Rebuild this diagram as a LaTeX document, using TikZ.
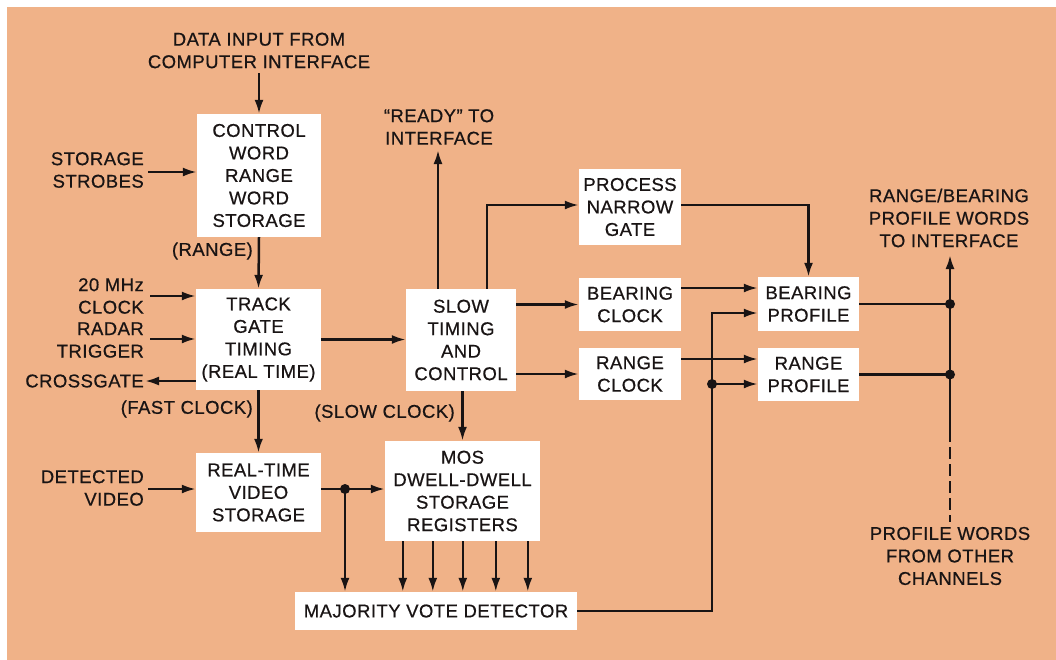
\documentclass[tikz,border=0pt]{standalone}
\usepackage{fontspec}
\setmainfont{Liberation Sans}[LetterSpace=2.5, FakeBold=0.6]
\usetikzlibrary{arrows.meta}
\definecolor{bg}{RGB}{240,178,136}
\definecolor{ink}{RGB}{25,20,20}
\newcommand\dfont{\fontsize{18.5}{22.5}\selectfont}
\begin{document}
\begin{tikzpicture}[x=1pt,y=-1pt,
  box/.style={fill=white, inner sep=0pt, align=center, font=\dfont, text=ink},
  lbl/.style={inner sep=0pt, font=\dfont, text=ink},
  arr/.style={draw=ink, line width=2.5pt, -{Latex[length=14pt,width=9pt]}},
  ln/.style={draw=ink, line width=2.5pt},
  dot/.style={circle, fill=ink, inner sep=0pt, minimum size=10pt}]
\useasboundingbox (0,0) rectangle (1056,659);
\fill[white] (-50,-50) rectangle (2000,2000);
\fill[bg] (7,7) rectangle (2000,2000);

% boxes
\node[box, minimum width=124pt, minimum height=123pt] (b1) at (259,175.5) {CONTROL\\WORD\\RANGE\\WORD\\STORAGE};
\node[box, minimum width=125pt, minimum height=101pt] (b2) at (258.5,339.5) {TRACK\\GATE\\TIMING\\(REAL TIME)};
\node[box, minimum width=125pt, minimum height=79pt] (b3) at (258.5,492.5) {REAL-TIME\\VIDEO\\STORAGE};
\node[box, minimum width=110pt, minimum height=102pt] (b4) at (461,340) {SLOW\\TIMING\\AND\\CONTROL};
\node[box, minimum width=102pt, minimum height=76pt] (b5) at (630,207) {PROCESS\\NARROW\\GATE};
\node[box, minimum width=102pt, minimum height=53pt] (b6) at (630,304.5) {BEARING\\CLOCK};
\node[box, minimum width=102pt, minimum height=52pt] (b7) at (630,374) {RANGE\\CLOCK};
\node[box, minimum width=101pt, minimum height=54pt] (b8) at (808.5,304) {BEARING\\PROFILE};
\node[box, minimum width=101pt, minimum height=53pt] (b9) at (808.5,374.5) {RANGE\\PROFILE};
\node[box, minimum width=155pt, minimum height=100pt] (b10) at (462.5,491) {MOS\\DWELL-DWELL\\STORAGE\\REGISTERS};
\node[box, minimum width=282pt, minimum height=38pt] (b11) at (436,611) {MAJORITY VOTE DETECTOR};

% labels
\node[lbl, align=center] (tdata) at (259,50.5) {DATA INPUT FROM\\COMPUTER INTERFACE};
\node[lbl, align=right, anchor=east] (tss) at (144,170) {STORAGE\\STROBES};
\node[lbl, anchor=east] (trange) at (253,251) {(RANGE)};
\node[lbl, align=right, anchor=east] (tclk) at (144,296) {20 MHz\\CLOCK};
\node[lbl, align=right, anchor=east] (trad) at (144,340) {RADAR\\TRIGGER};
\node[lbl, anchor=east] (tcg) at (144,381) {CROSSGATE};
\node[lbl, anchor=east] (tfast) at (253,409) {(FAST CLOCK)};
\node[lbl, align=right, anchor=east] (tvid) at (144,488) {DETECTED\\VIDEO};
\node[lbl, anchor=east] (tslow) at (455,413) {(SLOW CLOCK)};
\node[lbl, align=center] (tready) at (439,127) {``READY'' TO\\INTERFACE};
\node[lbl, align=center] (trb) at (949,218) {RANGE/BEARING\\PROFILE WORDS\\TO INTERFACE};
\node[lbl, align=center] (tpw) at (950,556) {PROFILE WORDS\\FROM OTHER\\CHANNELS};

% helper coordinates
\coordinate (cdata) at (259,73);
\coordinate (css) at (148,172);
\coordinate (cclk) at (150,296);
\coordinate (crad) at (150,339);
\coordinate (ccg) at (145,381);
\coordinate (cvid) at (148,489);
\coordinate (j1) at (345,489);
\coordinate (kx) at (712,384);
\coordinate (bpin) at (758,313);
\coordinate (sx) at (487,205);
\coordinate (rd) at (438,150);
\coordinate (bcy) at (0,288);
\coordinate (rcy) at (0,359);
\coordinate (bus) at (950,302);
\coordinate (bustop) at (950,255);
\coordinate (busmid) at (950,430);
\coordinate (busbot) at (950,522);

% connectors
\draw[arr] (cdata) -- (b1.north);
\draw[arr] (css) -- (css -| b1.west);
\draw[arr] (b1.south) -- (b2.north);
\draw[arr] (cclk) -- (cclk -| b2.west);
\draw[arr] (crad) -- (crad -| b2.west);
\draw[arr] (ccg -| b2.west) -- (ccg);
\draw[arr] (b2.south) -- (b3.north);
\draw[arr] (cvid) -- (cvid -| b3.west);
\draw[arr] (b2.east) -- (b2.east -| b4.west);
\draw[arr] (j1 -| b3.east) -- (j1 -| b10.west);
\draw[arr] (j1) -- (j1 |- b11.north);
\foreach \dx [count=\i] in {18,48,78,111,143} {
  \path ([xshift=\dx pt]b10.south west) coordinate (m\i);
  \draw[arr] (m\i) -- (m\i |- b11.north);
}
\draw[arr] (b11.east) -| (kx) |- (b8.west |- bpin);
\draw[arr] (kx) -- (kx -| b9.west);
\draw[arr] (b4.north -| rd) -- (rd);
\draw[arr] (b4.north -| sx) |- (b5.west |- sx);
\draw[arr] (b4.east |- b6.west) -- (b6.west);
\draw[arr] (b4.east |- b7.west) -- (b7.west);
\draw[arr] (b4.south -| b10.north) -- (b10.north);
\draw[arr] (b5.east |- sx) -| (b8.north);
\draw[arr] (b6.east |- bcy) -- (b8.west |- bcy);
\draw[arr] (b7.east |- rcy) -- (b9.west |- rcy);
\draw[ln] (b8.east) -- (b8.east -| bus);
\draw[ln] (b9.east) -- (b9.east -| bus);
\draw[arr] (busmid) -- (bustop);
\draw[ln, dash pattern=on 12pt off 5pt] (busmid) -- (busbot);

% dots
\node[dot] (d1) at (j1) {};
\node[dot] (d2) at (kx) {};
\node[dot] (d3) at (b8.east -| bus) {};
\node[dot] (d4) at (b9.east -| bus) {};
\end{tikzpicture}
\end{document}
